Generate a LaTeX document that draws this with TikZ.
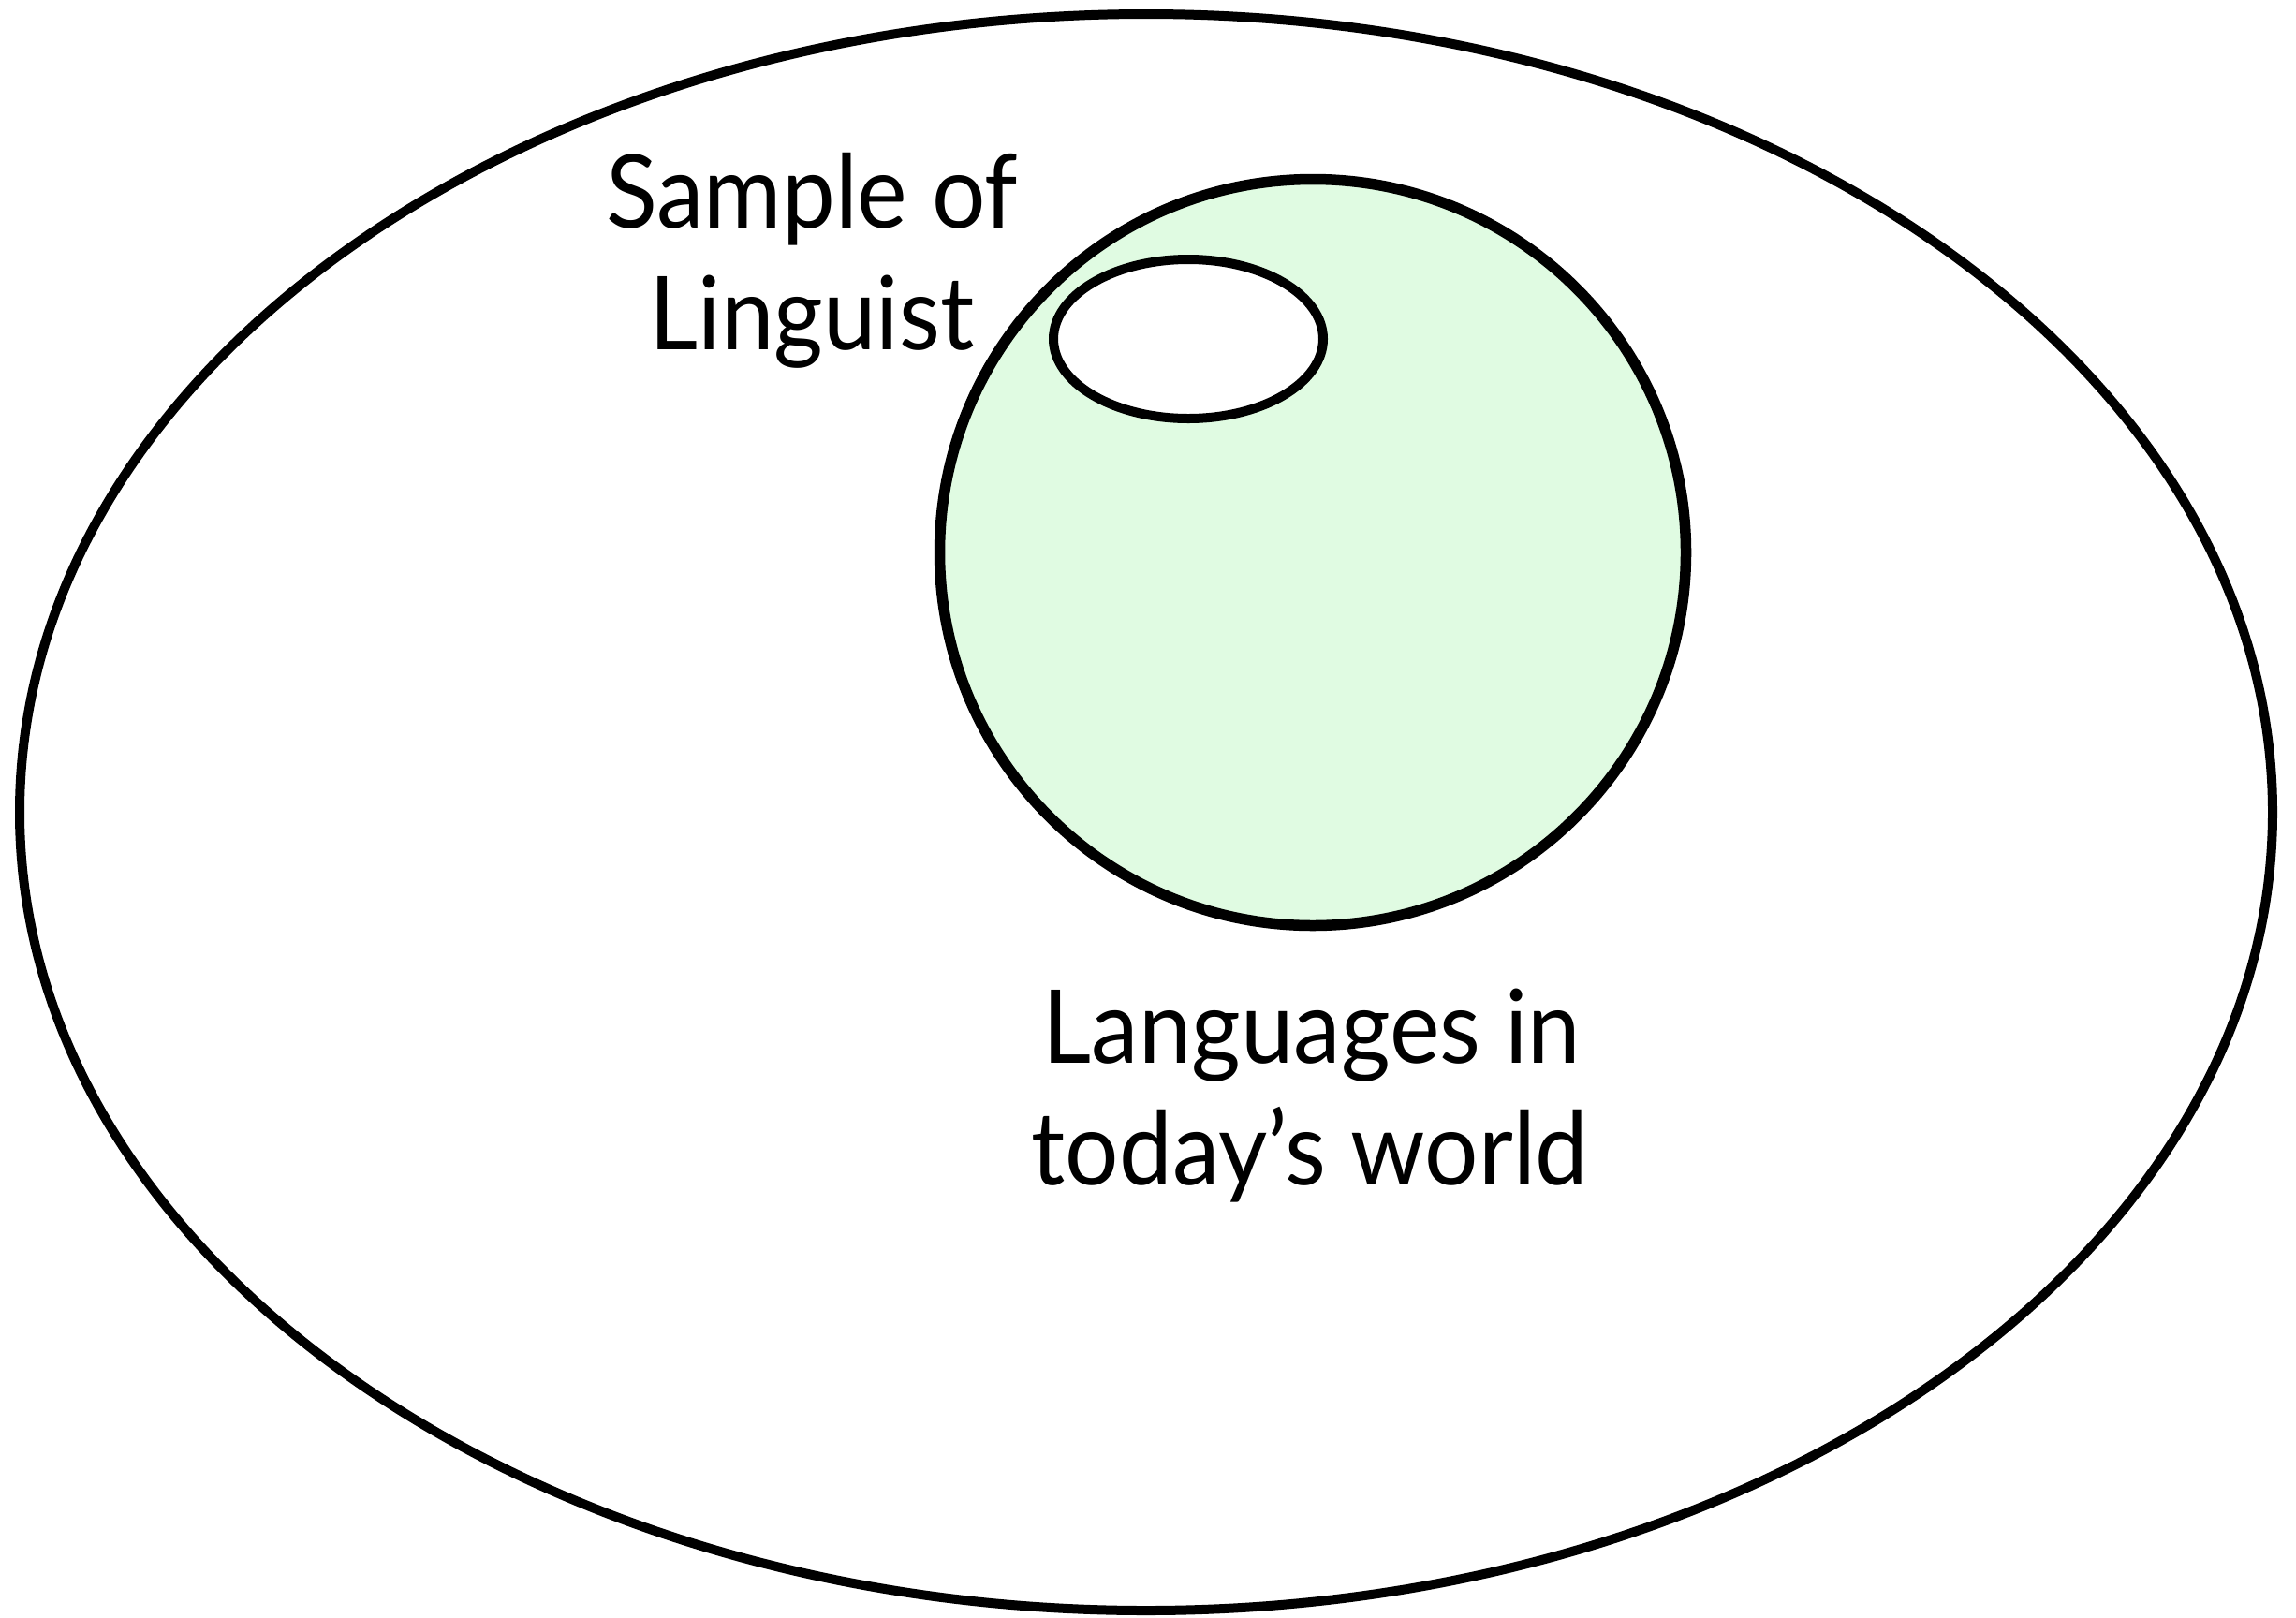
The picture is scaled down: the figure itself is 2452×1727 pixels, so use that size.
\documentclass[tikz,border=0pt]{standalone}
\usepackage{fontspec}
\setmainfont{Lato}[FakeStretch=0.93]
\definecolor{setgreen}{RGB}{224,251,226}
\begin{document}
\begin{tikzpicture}[x=0.1mm,y=-0.1mm,
  setline/.style={draw=black,line width=1mm},
  label/.style={anchor=base,inner sep=0pt,font=\fontsize{31}{37}\selectfont}]
\useasboundingbox (0,0) rectangle (2452,1727);
\fill[white] (0,0) rectangle (2452,1727);
% all languages
\draw[setline] (1224,867.5) ellipse [x radius=1203, y radius=852.5];
% languages in today's world
\draw[setline,line width=1.15mm,fill=setgreen] (1402,590) circle [radius=398.5];
% the linguist's sample
\draw[setline,fill=white] (1269,362) ellipse [x radius=144, y radius=85];
\node[label] (sample1) at (867,243) {Sample of};
\node[label] (sample2) at (867,373) {Linguist};
\node[label] (today1) at (1401,1135) {Languages in};
\node[label] (today2) at (1399,1265) {today’s world};
\end{tikzpicture}
\end{document}
